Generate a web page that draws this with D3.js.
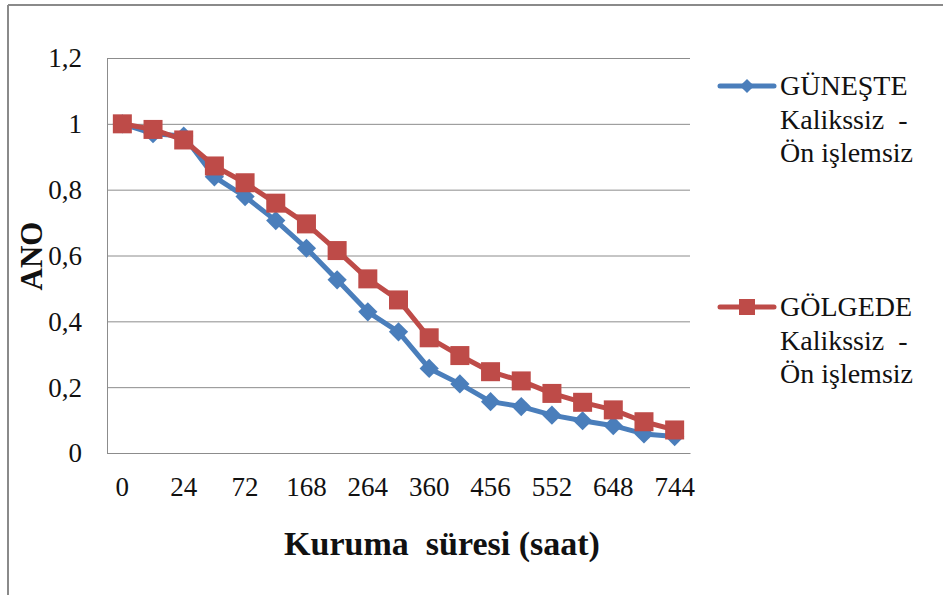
<!DOCTYPE html>
<html>
<head>
<meta charset="utf-8">
<script src="https://cdn.jsdelivr.net/npm/d3@7"></script>
<style>
  body { margin: 0; background: #fff; }
</style>
</head>
<body>
<svg id="chart"></svg>
<script>
// kuruma süresi (saat)
const categories = ["0", "12", "24", "48", "72", "120", "168", "216", "264", "312",
    "360", "408", "456", "504", "552", "600", "648", "696", "744"];
const guneste = [1.0, 0.97, 0.963, 0.839, 0.779, 0.706, 0.622, 0.526, 0.429, 0.368,
    0.257, 0.21, 0.156, 0.141, 0.115, 0.098, 0.083, 0.058, 0.05];
const golgede = [1.0, 0.983, 0.951, 0.872, 0.821, 0.759, 0.696, 0.615, 0.529, 0.465,
    0.35, 0.296, 0.247, 0.219, 0.181, 0.154, 0.131, 0.095, 0.07];
const yTicks = [0, 0.2, 0.4, 0.6, 0.8, 1, 1.2];
const seriesNames = [
    ["GÜNEŞTE", "Kalikssiz  -", "Ön işlemsiz"],
    ["GÖLGEDE", "Kalikssiz  -", "Ön işlemsiz"]
];

const FONT = "'Liberation Serif', 'Times New Roman', serif";
const width = 943, height = 595;
const margin = { top: 58, right: 253, bottom: 142, left: 107 };
const plotW = width - margin.left - margin.right;
const plotH = height - margin.top - margin.bottom;

const svg = d3.select("#chart").attr("width", width).attr("height", height);
svg.append("rect").attr("width", width).attr("height", height).attr("fill", "#fff");

// frame of the pasted chart
svg.append("line").attr("x1", 8).attr("x2", width).attr("y1", 5).attr("y2", 5)
    .attr("stroke", "#8a8a8a").attr("stroke-width", 2);
svg.append("line").attr("x1", 8).attr("x2", 8).attr("y1", 5).attr("y2", height)
    .attr("stroke", "#8a8a8a").attr("stroke-width", 2);

const g = svg.append("g").attr("transform", `translate(${margin.left}, ${margin.top})`);

const x = d3.scaleBand().domain(categories).range([0, plotW]);
const y = d3.scaleLinear().domain([0, 1.2]).range([plotH, 0]);

const trLocale = d3.formatLocale({ decimal: ",", thousands: ".", grouping: [3], currency: ["", ""] });
const fmt = trLocale.format("~g");

const yAxis = g.append("g")
    .call(d3.axisLeft(y).tickValues(yTicks).tickFormat(fmt)
        .tickSize(-plotW).tickSizeOuter(0).tickPadding(25));
yAxis.selectAll("line").attr("stroke", "#8c8c8c");
yAxis.select(".domain").attr("stroke", "#8c8c8c");
yAxis.selectAll("text")
    .attr("font-size", "27px")
    .attr("font-family", FONT)
    .attr("fill", "#111")
    .attr("dy", "0.33em");

const xAxis = g.append("g")
    .attr("transform", `translate(0, ${plotH})`)
    .call(d3.axisBottom(x).tickValues(categories.filter((d, i) => i % 2 == 0))
        .tickSize(0).tickPadding(24));
xAxis.select(".domain").attr("stroke", "#8c8c8c");
xAxis.selectAll("text")
    .attr("font-size", "27px")
    .attr("font-family", FONT)
    .attr("fill", "#111");

const cx = (d, i) => x(categories[i]) + x.bandwidth() / 2;
const line = d3.line().x(cx).y(d => y(d));

const blue = "#4a7ebb", red = "#be4b48";

// GÜNEŞTE
g.append("path").datum(guneste)
    .attr("fill", "none").attr("stroke", blue).attr("stroke-width", 5)
    .attr("stroke-linejoin", "round").attr("d", line);
g.append("g").selectAll("rect")
    .data(guneste)
    .join("rect")
    .attr("x", -6.8).attr("y", -6.8)
    .attr("width", 13.6).attr("height", 13.6)
    .attr("transform", (d, i) => `translate(${cx(d, i)}, ${y(d)}) rotate(45)`)
    .attr("fill", blue);

// GÖLGEDE
g.append("path").datum(golgede)
    .attr("fill", "none").attr("stroke", red).attr("stroke-width", 5)
    .attr("stroke-linejoin", "round").attr("d", line);
g.append("g").selectAll("rect")
    .data(golgede)
    .join("rect")
    .attr("x", (d, i) => cx(d, i) - 9.5)
    .attr("y", d => y(d) - 9.5)
    .attr("width", 19).attr("height", 19)
    .attr("fill", red);

// axis titles
svg.append("text")
    .attr("x", 442).attr("y", 555)
    .attr("text-anchor", "middle")
    .attr("font-family", FONT)
    .attr("font-size", "34px").attr("font-weight", "bold")
    .attr("fill", "#111")
    .style("white-space", "pre")
    .text("Kuruma  süresi (saat)");

svg.append("text")
    .attr("transform", "translate(42, 256) rotate(-90)")
    .attr("text-anchor", "middle")
    .attr("font-family", FONT)
    .attr("font-size", "31px").attr("font-weight", "bold")
    .attr("fill", "#111")
    .text("ANO");

// legend
const legend = svg.append("g");
const legendY = [86, 307];
const legendColors = [blue, red];

seriesNames.forEach((lines, k) => {
    const ly = legendY[k];
    legend.append("line")
        .attr("x1", 720).attr("x2", 774).attr("y1", ly).attr("y2", ly)
        .attr("stroke", legendColors[k]).attr("stroke-width", 5)
        .attr("stroke-linecap", "round");
    if (k == 0) {
        legend.append("rect")
            .attr("x", -5).attr("y", -5).attr("width", 10).attr("height", 10)
            .attr("transform", `translate(747, ${ly}) rotate(45)`)
            .attr("fill", blue);
    } else {
        legend.append("rect")
            .attr("x", 739).attr("y", ly - 8).attr("width", 16).attr("height", 16)
            .attr("fill", red);
    }
    legend.append("g").selectAll("text")
        .data(lines)
        .join("text")
        .attr("x", 780)
        .attr("y", (d, i) => ly + 9 + i * 33.5)
        .attr("font-family", FONT)
        .attr("font-size", "28px")
        .attr("fill", "#111")
        .style("white-space", "pre")
        .text(d => d);
});
</script>
</body>
</html>
